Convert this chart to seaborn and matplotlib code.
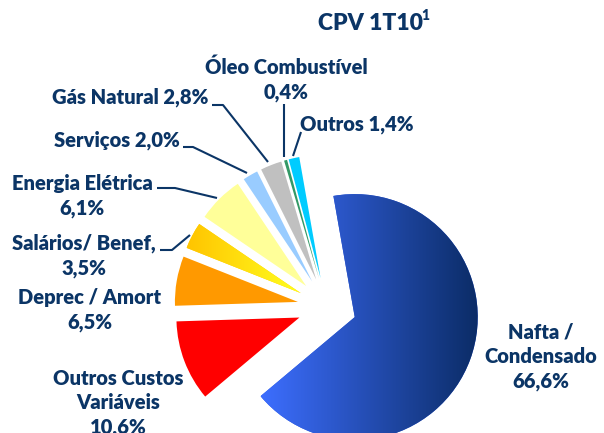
import numpy as np
import matplotlib
matplotlib.use("Agg")
import matplotlib.pyplot as plt
import seaborn as sns
from matplotlib.colors import LinearSegmentedColormap

# Cost breakdown (CPV 1T10), %
categories = ["Nafta /\nCondensado", "Outros Custos\nVariáveis", "Deprec / Amort",
              "Salários/ Benef.", "Energia Elétrica", "Serviços", "Gás Natural",
              "Óleo Combustível", "Outros"]
shares = [66.6, 10.6, 6.5, 3.5, 6.1, 2.0, 2.8, 0.4, 1.4]
separators = ["\n", "\n", "\n", "\n", "\n", " ", " ", "\n", " "]
slice_colors = ["#2F5BE0", "#FF0000", "#FF9900", "#FFD000", "#FFFF99",
                "#99CCFF", "#C0C0C0", "#339966", "#00CCFF"]

sns.set_theme(style="white")
plt.rcParams["font.family"] = ["Lato", "DejaVu Sans"]
navy = "#0B3566"

W, H = 604, 433
CX, CY, R = 327, 307, 123   # pie centre / radius in pixels


def to_data(px, py):
    return (px - CX) / R, (CY - py) / R


fig = plt.figure(figsize=(W / 100, H / 100), dpi=100)
ax = fig.add_axes([0, 0, 1, 1])

wedges, _ = ax.pie(shares, colors=slice_colors, startangle=100, counterclock=False,
                   explode=[0.24] * len(shares), radius=1,
                   wedgeprops=dict(linewidth=0))


def gradient(wedge, c1, c2):
    ext = wedge.get_path().get_extents()
    cmap = LinearSegmentedColormap.from_list("g", [c1, c2])
    img = ax.imshow(np.linspace(0, 1, 256).reshape(1, -1), cmap=cmap, aspect="auto",
                    extent=[ext.x0, ext.x1, ext.y0, ext.y1], zorder=wedge.get_zorder() + 0.1)
    img.set_clip_path(wedge)


gradient(wedges[0], "#3D6EFF", "#0B2C66")
gradient(wedges[3], "#FFC400", "#FFFF20")

# label layout: centre of text block (px) and leader line (px)
label_pos = [(541, 357), (118, 403), (90, 310), (84, 256), (82, 196),
             (117, 140), (130, 97), (286, 80), (357, 125)]
leaders = [None, None, None,
           [(160, 250), (172, 250), (190, 235)],
           [(157, 188), (175, 188), (217, 198)],
           [(183, 147), (193, 147), (247, 173)],
           [(212, 105), (223, 105), (268, 162)],
           [(284, 104), (284, 157)],
           [(301, 132), (293, 156)]]

for name, v, sep, (px, py), ld in zip(categories, shares, separators, label_pos, leaders):
    txt = f"{name}{sep}{v:.1f}%".replace(".", ",")
    x, y = to_data(px, py)
    ax.text(x, y, txt, ha="center", va="center", multialignment="center",
            fontsize=14.5, fontweight="heavy", color=navy, linespacing=1.35)
    if ld:
        xs, ys = zip(*[to_data(a, b) for a, b in ld])
        ax.plot(xs, ys, color=navy, lw=1.5, solid_capstyle="butt")

tx, ty = to_data(370, 23)
ax.text(tx, ty, "CPV 1T10", ha="center", va="center", fontsize=16.5,
        fontweight="heavy", color=navy)
sx, sy = to_data(425, 16)
ax.text(sx, sy, "1", ha="center", va="center", fontsize=10,
        fontweight="heavy", color=navy)

ax.set_aspect("auto")
ax.set_xlim((0 - CX) / R, (W - CX) / R)
ax.set_ylim((CY - H) / R, CY / R)
ax.axis("off")

fig.savefig("out.png", dpi=100)
